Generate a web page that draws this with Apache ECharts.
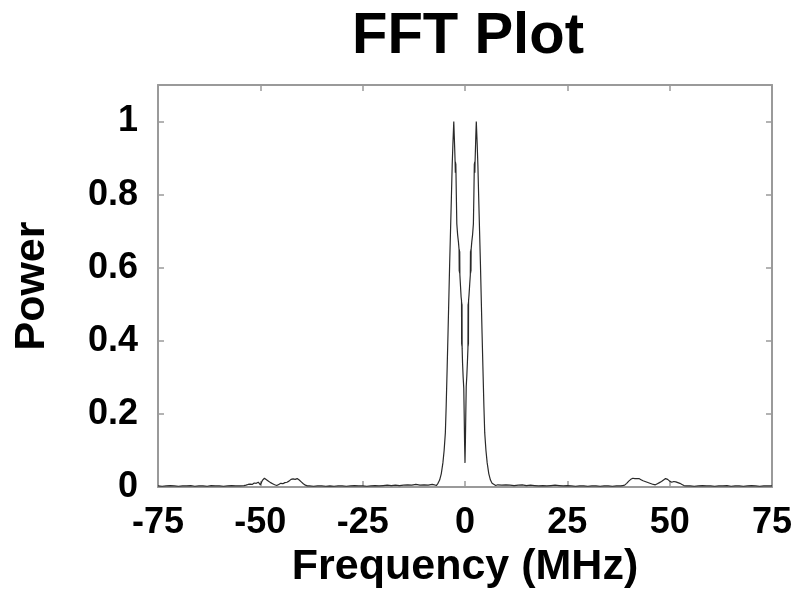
<!DOCTYPE html>
<html>
<head>
<meta charset="utf-8">
<script src="https://cdn.jsdelivr.net/npm/echarts@6/dist/echarts.min.js"></script>
<style>html,body{margin:0;padding:0;background:#fff}#c{width:796px;height:603px}</style>
</head>
<body>
<div id="c"></div>
<script>
// Frequency axis (MHz) and normalised power
const freq = [
 -75,-74,-73,-72,-71,-70,-69,-68,-67,-66,-65,-64,-63,-62,-61,-60,-59,-58,-57,-56,-55,-54,
 -53.5,-53,-52.5,-52,-51.5,-51,-50.5,-50,-49.5,-49,-48.5,-48,-47.5,-47,-46.5,-46,-45.5,-45,-44.5,-44,-43.5,-43,-42.5,-42,-41.5,-41,-40.5,-40,-39.5,-39,-38.5,
 -38,-37,-36,-35,-34,-33,-32,-31,-30,-29,-28,-27,-26,-25,-24,-23,-22,-21,-20,-19,-18,-17,-16,-15,-14,-13,-12,-11,-10,-9,-8,
 -7.5,-7.0,-6.6,-6.2,-5.8,-5.4,-5.1,-4.8,-4.6,-4.35,-4.15,-3.96,-3.75,-3.54,-3.33,-3.13,-2.95,-2.74,
 -2.62,-2.5,-2.42,-2.36,-2.32,-2.28,-2.24,-2.12,-2.0,-1.8,-1.6,-1.45,-1.41,-1.37,-1.33,-1.29,-1.25,-1.1,-0.95,-0.85,-0.82,-0.79,-0.76,-0.73,-0.70,-0.6,-0.45,-0.3,-0.2,-0.1,0.0,
 0.1,0.2,0.3,0.45,0.6,0.72,0.75,0.78,0.81,0.84,0.87,0.98,1.15,1.3,1.34,1.38,1.42,1.46,1.5,1.65,1.85,2.05,2.17,2.28,2.32,2.36,2.40,2.46,2.54,2.64,2.76,
 2.97,3.15,3.35,3.56,3.77,3.98,4.17,4.37,4.62,4.82,5.12,5.42,5.82,6.22,6.62,7.0,7.5,
 8,9,10,11,12,13,14,15,16,17,18,19,20,21,22,23,24,25,26,27,28,29,30,31,32,33,34,35,36,37,38,
 38.5,39,39.5,40,40.5,41,41.5,42,42.5,43,43.5,44,44.5,45,45.5,46,46.5,47,47.5,48,48.5,49,49.5,50,50.5,51,51.5,52,52.5,53,53.5,54,
 55,56,57,58,59,60,61,62,63,64,65,66,67,68,69,70,71,72,73,74,75
];
const power = [
 0.003,0.002,0.003,0.004,0.003,0.002,0.003,0.003,0.004,0.002,0.003,0.003,0.002,0.004,0.003,0.003,0.002,0.003,0.004,0.003,0.003,0.004,
 0.005,0.007,0.008,0.007,0.011,0.010,0.013,0.006,0.018,0.024,0.020,0.016,0.012,0.009,0.006,0.004,0.007,0.010,0.009,0.012,0.013,0.016,0.021,0.022,0.021,0.023,0.019,0.014,0.009,0.005,0.003,
 0.003,0.002,0.003,0.003,0.002,0.003,0.002,0.003,0.003,0.002,0.003,0.004,0.003,0.003,0.002,0.003,0.004,0.003,0.004,0.005,0.004,0.005,0.004,0.005,0.006,0.005,0.007,0.005,0.006,0.005,0.007,
 0.006,0.004,0.010,0.019,0.036,0.066,0.100,0.148,0.220,0.330,0.420,0.510,0.610,0.700,0.790,0.880,0.940,1.000,
 0.960,0.920,0.890,0.860,0.890,0.860,0.885,0.800,0.720,0.690,0.670,0.650,0.590,0.650,0.585,0.645,0.580,0.550,0.520,0.510,0.390,0.505,0.385,0.500,0.380,0.340,0.300,0.270,0.200,0.120,0.066,
 0.125,0.205,0.275,0.305,0.345,0.380,0.500,0.385,0.505,0.390,0.510,0.525,0.555,0.580,0.645,0.585,0.650,0.590,0.650,0.670,0.690,0.720,0.800,0.885,0.860,0.890,0.860,0.890,0.920,0.960,1.000,
 0.940,0.880,0.790,0.700,0.610,0.510,0.420,0.330,0.220,0.148,0.100,0.066,0.036,0.019,0.010,0.005,0.004,
 0.006,0.005,0.006,0.005,0.004,0.005,0.006,0.004,0.005,0.004,0.003,0.004,0.003,0.004,0.005,0.004,0.003,0.004,0.003,0.002,0.003,0.003,0.002,0.003,0.003,0.002,0.003,0.003,0.002,0.003,0.003,
 0.004,0.005,0.010,0.016,0.021,0.024,0.023,0.023,0.023,0.020,0.017,0.015,0.013,0.011,0.009,0.007,0.006,0.009,0.012,0.015,0.019,0.023,0.021,0.016,0.013,0.015,0.014,0.012,0.010,0.007,0.004,0.003,
 0.003,0.002,0.003,0.004,0.003,0.003,0.002,0.003,0.003,0.004,0.002,0.003,0.003,0.002,0.003,0.004,0.003,0.002,0.003,0.003,0.003
];
const xTicks = [-75,-50,-25,0,25,50,75];
const yTicks = [0,0.2,0.4,0.6,0.8,1];

const FONT = '"Liberation Sans", Arial, Helvetica, sans-serif';
const AX = '#9a9a9a';
const data = freq.map((f,i)=>[f,power[i]]);

const chart = echarts.init(document.getElementById('c'), null, {renderer:'canvas'});
const baseX = {type:'value', min:xTicks[0], max:xTicks[xTicks.length-1], interval:25,
  axisLine:{show:true, onZero:false, lineStyle:{color:AX,width:2}},
  axisTick:{show:true, inside:true, length:6, lineStyle:{color:AX,width:1.5}},
  splitLine:{show:false}};
const baseY = {type:'value', min:0, max:1.1, interval:0.2,
  axisLine:{show:true, onZero:false, lineStyle:{color:AX,width:2}},
  axisTick:{show:true, inside:true, length:6, lineStyle:{color:AX,width:1.5}},
  splitLine:{show:false}};
chart.setOption({
  animation:false,
  backgroundColor:'#fff',
  title:{text:'FFT Plot', left:347, top:3,
    textStyle:{fontFamily:FONT, fontSize:58, fontWeight:'bold', color:'#000'}},
  grid:{left:158, right:24, top:85, bottom:116},
  xAxis:[
    Object.assign({}, baseX, {position:'bottom',
      name:'Frequency (MHz)', nameLocation:'middle', nameGap:44,
      nameTextStyle:{fontFamily:FONT, fontSize:43, fontWeight:'bold', color:'#000'},
      axisLabel:{show:true, margin:18, fontFamily:FONT, fontSize:36, fontWeight:'bold', color:'#000'}}),
    Object.assign({}, baseX, {position:'top', axisLabel:{show:false}})
  ],
  yAxis:[
    Object.assign({}, baseY, {position:'left',
      name:'Power', nameLocation:'middle', nameGap:104, nameRotate:90,
      nameTextStyle:{fontFamily:FONT, fontSize:43, fontWeight:'bold', color:'#000'},
      axisLabel:{show:true, margin:20, fontFamily:FONT, fontSize:36, fontWeight:'bold', color:'#000',
        formatter:v => yTicks.some(t=>Math.abs(t-v)<1e-6) ? String(Math.round(v*10)/10) : ''}}),
    Object.assign({}, baseY, {position:'right', axisLabel:{show:false}})
  ],
  series:[{type:'line', xAxisIndex:0, yAxisIndex:0, data:data, symbol:'none',
    lineStyle:{color:'#2a2a2a', width:1.2}, z:3}]
});
</script>
</body>
</html>
